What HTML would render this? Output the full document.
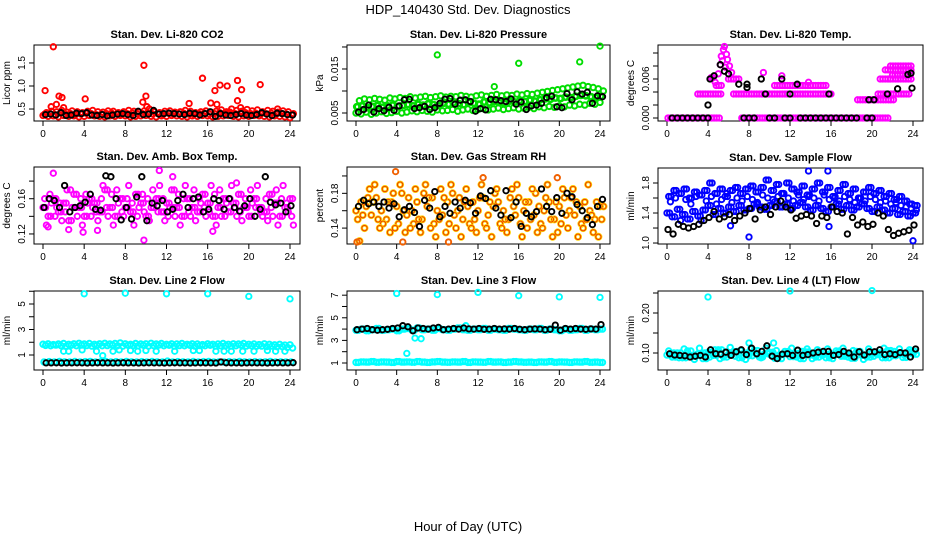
<!DOCTYPE html>
<html><head><meta charset="utf-8"><title>HDP_140430 Std. Dev. Diagnostics</title>
<style>
html,body{margin:0;padding:0;background:#fff;}
svg{display:block;font-family:"Liberation Sans",sans-serif;}
</style></head>
<body>
<svg id="chart" width="936" height="540" viewBox="0 0 936 540" xmlns="http://www.w3.org/2000/svg">
<text x="468" y="14" text-anchor="middle" font-size="13">HDP_140430  Std. Dev. Diagnostics</text>
<text x="468" y="531" text-anchor="middle" font-size="13">Hour of Day (UTC)</text>
</svg>
<script>
// ---------- data (hour = index * 0.5) ----------
const hourTicks = [0,4,8,12,16,20,24];
const co2Lo=[0.36,0.34,0.35,0.33,0.36,0.34,0.35,0.33,0.34,0.36,0.35,0.34,0.33,0.35,0.34,0.36,0.35,0.33,0.34,0.35,0.36,0.34,0.33,0.35,0.34,0.36,0.35,0.34,0.33,0.35,0.34,0.36,0.35,0.33,0.34,0.35,0.36,0.34,0.33,0.35,0.34,0.36,0.35,0.34,0.33,0.35,0.34,0.33,0.31];
const co2Mid=[0.39,0.40,0.38,0.41,0.39,0.40,0.38,0.39,0.41,0.40,0.38,0.39,0.40,0.41,0.39,0.38,0.40,0.41,0.39,0.40,0.42,0.39,0.40,0.38,0.41,0.39,0.40,0.41,0.39,0.38,0.40,0.41,0.39,0.40,0.42,0.41,0.43,0.40,0.41,0.42,0.40,0.41,0.39,0.40,0.41,0.39,0.40,0.39,0.37];
const co2Hi=[0.42,0.45,0.44,0.47,0.43,0.46,0.44,0.42,0.45,0.47,0.44,0.43,0.46,0.45,0.42,0.44,0.47,0.45,0.43,0.46,0.50,0.44,0.42,0.45,0.46,0.43,0.44,0.47,0.45,0.42,0.44,0.46,0.43,0.45,0.48,0.44,0.50,0.47,0.45,0.49,0.46,0.48,0.44,0.47,0.45,0.43,0.46,0.44,0.40];
const co2OutH=[0.2,1.0,0.8,1.3,1.55,1.85,2.0,4.1,9.7,9.8,10.0,10.1,14.2,15.5,16.3,16.7,16.9,17.2,17.9,18.9,18.9,19.3,19.2,21.1,22.8];
const co2OutV=[0.90,1.85,0.55,0.60,0.78,0.75,0.53,0.72,0.65,1.45,0.78,0.55,0.62,1.17,0.63,0.90,0.60,1.02,1.00,1.12,0.68,0.92,0.53,1.03,0.50];
const co2Blk=[0.38,0.39,0.37,0.42,0.36,0.37,0.41,0.40,0.42,0.37,0.36,0.38,0.35,0.37,0.39,0.40,0.38,0.36,0.45,0.38,0.39,0.47,0.39,0.40,0.41,0.40,0.39,0.38,0.41,0.40,0.37,0.40,0.44,0.34,0.40,0.37,0.36,0.38,0.40,0.37,0.36,0.38,0.42,0.39,0.36,0.41,0.40,0.38,0.37];

const prLo=[0.0050,0.0048,0.0052,0.0047,0.0050,0.0053,0.0049,0.0051,0.0054,0.0050,0.0052,0.0055,0.0053,0.0056,0.0054,0.0052,0.0057,0.0055,0.0056,0.0058,0.0054,0.0057,0.0059,0.0056,0.0058,0.0060,0.0057,0.0059,0.0061,0.0058,0.0060,0.0062,0.0059,0.0061,0.0063,0.0060,0.0064,0.0062,0.0065,0.0063,0.0066,0.0064,0.0068,0.0066,0.0070,0.0068,0.0072,0.0070,0.0074];
const prMid=[0.0064,0.0066,0.0062,0.0065,0.0067,0.0063,0.0066,0.0068,0.0065,0.0067,0.0069,0.0066,0.0070,0.0068,0.0071,0.0069,0.0067,0.0072,0.0070,0.0073,0.0071,0.0069,0.0074,0.0072,0.0070,0.0075,0.0073,0.0076,0.0074,0.0072,0.0077,0.0075,0.0078,0.0076,0.0079,0.0077,0.0080,0.0082,0.0081,0.0084,0.0083,0.0086,0.0085,0.0088,0.0090,0.0089,0.0087,0.0085,0.0088];
const prHi=[0.0078,0.0082,0.0080,0.0083,0.0081,0.0079,0.0084,0.0082,0.0085,0.0083,0.0087,0.0084,0.0086,0.0088,0.0085,0.0087,0.0089,0.0086,0.0088,0.0087,0.0090,0.0088,0.0086,0.0089,0.0091,0.0088,0.0090,0.0092,0.0089,0.0091,0.0090,0.0093,0.0091,0.0094,0.0092,0.0095,0.0097,0.0099,0.0101,0.0103,0.0105,0.0107,0.0109,0.0111,0.0113,0.0110,0.0108,0.0105,0.0100];
const prOutH=[8,16,22,24,13.6];
const prOutV=[0.0182,0.0163,0.0166,0.0202,0.0110];
const prBlk=[0.0052,0.0058,0.0068,0.0052,0.0060,0.0055,0.0063,0.0056,0.0066,0.0080,0.0081,0.0060,0.0062,0.0065,0.0058,0.0062,0.0072,0.0081,0.0083,0.0070,0.0079,0.0080,0.0076,0.0054,0.0060,0.0057,0.0081,0.0080,0.0078,0.0076,0.0082,0.0070,0.0075,0.0058,0.0066,0.0068,0.0072,0.0085,0.0088,0.0064,0.0062,0.0094,0.0080,0.0098,0.0093,0.0097,0.0072,0.0089,0.0087];

const tempLevel=[0,0,0.0037,0.0037,0.0037,0.005,0.005,0.0028,0.006,0.006,0.0074,0.008,0.0066];
const tempStart=[0.1,7.3,3.0,6.5,20.6,10.5,4.8,18.6,6.0,20.8,21.3,21.8,22.0];
const tempEnd=[5.2,21.6,5.3,16.1,23.6,15.7,5.3,22.3,7.2,23.8,23.8,23.9,23.9];
const tempPeakH=[4.7,5.0,5.2,5.3,5.5,5.6,5.8,5.9,6.1,6.3,5.4,5.7,4.5,4.3,11.2,13.8,9.4];
const tempPeakV=[0.0055,0.0068,0.0082,0.0095,0.0105,0.011,0.0098,0.009,0.008,0.007,0.0088,0.0078,0.0062,0.0062,0.0065,0.0055,0.007];
const tempBlkH=[0.5,1,1.5,2,2.5,3,3.5,4,7.5,8,8.5,10,10.5,11.5,12,13,13.5,14,14.5,15,15.5,16,16.5,17,17.5,18,18.5,19.5,20,4.0,4.2,4.6,5.2,5.6,6.0,7.0,7.8,7.8,9.2,11.2,12.7,9.6,12,15.8,20.2,19.7,21.5,22.5,23.5,23.8,23.9];
const tempBlkV=[0,0,0,0,0,0,0,0,0,0,0,0,0,0,0,0,0,0,0,0,0,0,0,0,0,0,0,0,0,0.002,0.006,0.0065,0.0082,0.0072,0.0068,0.0052,0.0047,0.0052,0.006,0.006,0.0052,0.0037,0.0037,0.0037,0.0028,0.0028,0.0037,0.0045,0.0067,0.0069,0.0046];

const ambA=[0.15,0.14,0.16,0.145,0.155,0.135,0.165,0.15,0.14,0.16,0.155,0.145,0.17,0.15,0.14,0.16,0.15,0.145,0.165,0.155,0.14,0.15,0.16,0.145,0.155,0.17,0.15,0.14,0.16,0.15,0.145,0.165,0.155,0.14,0.15,0.16,0.145,0.155,0.165,0.15,0.14,0.16,0.15,0.145,0.165,0.155,0.14,0.15,0.16];
const ambB=[0.16,0.165,0.14,0.155,0.145,0.17,0.15,0.16,0.165,0.14,0.145,0.16,0.15,0.165,0.17,0.145,0.16,0.155,0.14,0.165,0.16,0.17,0.145,0.16,0.14,0.15,0.165,0.16,0.145,0.17,0.16,0.15,0.145,0.165,0.17,0.14,0.16,0.15,0.145,0.16,0.17,0.15,0.145,0.16,0.15,0.17,0.16,0.155,0.14];
const ambC=[0.13,0.155,0.15,0.135,0.17,0.15,0.14,0.13,0.155,0.15,0.135,0.175,0.14,0.13,0.155,0.14,0.175,0.13,0.15,0.145,0.135,0.155,0.175,0.135,0.15,0.14,0.13,0.175,0.14,0.135,0.155,0.14,0.175,0.13,0.14,0.155,0.175,0.14,0.135,0.15,0.155,0.175,0.14,0.135,0.14,0.13,0.175,0.145,0.13];
const ambOutH=[1.0,11.3,12.6,3.9,5.3,9.8,16.5,0.5,2.5,18.8];
const ambOutV=[0.189,0.192,0.185,0.122,0.124,0.113,0.123,0.128,0.125,0.178];
const ambBlk=[0.150,0.160,0.158,0.150,0.175,0.145,0.150,0.152,0.156,0.165,0.148,0.147,0.186,0.185,0.160,0.136,0.150,0.137,0.162,0.185,0.135,0.155,0.152,0.158,0.145,0.148,0.158,0.165,0.150,0.160,0.162,0.145,0.148,0.160,0.158,0.148,0.160,0.150,0.146,0.152,0.160,0.140,0.148,0.185,0.156,0.153,0.155,0.145,0.152];

const rhA=[0.16,0.17,0.165,0.155,0.175,0.16,0.15,0.17,0.165,0.18,0.155,0.16,0.17,0.15,0.165,0.175,0.16,0.155,0.17,0.18,0.16,0.15,0.165,0.17,0.16,0.175,0.155,0.165,0.17,0.16,0.15,0.165,0.175,0.16,0.17,0.155,0.165,0.16,0.17,0.15,0.165,0.175,0.16,0.155,0.165,0.17,0.16,0.15,0.165];
const rhB=[0.15,0.155,0.175,0.17,0.15,0.145,0.17,0.18,0.145,0.16,0.175,0.145,0.15,0.18,0.175,0.145,0.15,0.175,0.145,0.155,0.175,0.17,0.145,0.15,0.175,0.145,0.17,0.18,0.145,0.15,0.175,0.155,0.145,0.17,0.15,0.18,0.145,0.175,0.15,0.17,0.145,0.155,0.175,0.17,0.145,0.15,0.155,0.17,0.15];
const rhC=[0.125,0.14,0.185,0.19,0.14,0.185,0.135,0.14,0.19,0.135,0.14,0.185,0.135,0.19,0.14,0.13,0.185,0.135,0.19,0.14,0.13,0.185,0.14,0.135,0.19,0.14,0.13,0.185,0.14,0.135,0.185,0.19,0.13,0.14,0.185,0.135,0.14,0.19,0.13,0.135,0.185,0.14,0.185,0.13,0.14,0.19,0.135,0.13,0.165];
const rhBlk=[0.165,0.172,0.168,0.170,0.165,0.170,0.163,0.168,0.153,0.161,0.165,0.158,0.142,0.172,0.163,0.182,0.153,0.165,0.157,0.170,0.163,0.172,0.169,0.157,0.177,0.174,0.183,0.163,0.155,0.183,0.152,0.170,0.142,0.157,0.153,0.159,0.185,0.165,0.159,0.175,0.157,0.180,0.176,0.167,0.160,0.152,0.144,0.165,0.173];
const rhOutH=[3.9,9.1,0.1,4.6,19.8,12.5];
const rhOutV=[0.205,0.124,0.124,0.124,0.198,0.198];

const sfA=[1.40,1.35,1.45,1.38,1.32,1.42,1.36,1.44,1.50,1.38,1.46,1.40,1.48,1.42,1.50,1.44,1.46,1.52,1.48,1.45,1.50,1.55,1.48,1.52,1.46,1.50,1.54,1.48,1.44,1.50,1.46,1.42,1.48,1.52,1.45,1.50,1.44,1.48,1.52,1.46,1.42,1.48,1.44,1.40,1.46,1.38,1.42,1.36,1.40];
const sfB=[1.62,1.70,1.66,1.72,1.60,1.68,1.64,1.70,1.80,1.66,1.72,1.62,1.70,1.74,1.66,1.72,1.76,1.68,1.74,1.84,1.70,1.78,1.66,1.80,1.72,1.68,1.76,1.64,1.72,1.80,1.68,1.74,1.62,1.70,1.78,1.66,1.72,1.60,1.68,1.74,1.66,1.70,1.62,1.66,1.58,1.62,1.56,1.52,1.50];
const sfC=[1.55,1.60,1.30,1.58,1.52,1.62,1.30,1.56,1.62,1.52,1.58,1.66,1.54,1.60,1.56,1.62,1.58,1.54,1.64,1.60,1.58,1.62,1.66,1.60,1.56,1.64,1.58,1.62,1.60,1.56,1.64,1.58,1.60,1.56,1.62,1.58,1.54,1.60,1.56,1.62,1.58,1.54,1.56,1.52,1.54,1.50,1.48,1.46,1.44];
const sfBlk=[1.18,1.12,1.25,1.22,1.20,1.22,1.25,1.30,1.34,1.42,1.32,1.35,1.38,1.30,1.36,1.40,1.46,1.32,1.44,1.48,1.38,1.48,1.56,1.48,1.44,1.33,1.36,1.38,1.36,1.26,1.36,1.34,1.48,1.42,1.40,1.12,1.34,1.24,1.28,1.22,1.25,1.40,1.36,1.18,1.10,1.13,1.15,1.17,1.24];
const sfOutH=[8.0,13.8,15.7,24.0,6.2,15.8];
const sfOutV=[1.08,1.96,1.96,1.03,1.23,1.22];

const l2A=[1.85,1.88,1.82,1.86,1.90,1.84,1.88,1.92,1.86,1.90,1.84,1.88,1.92,1.86,1.90,1.95,1.88,1.84,1.90,1.86,1.88,1.92,1.86,1.90,1.84,1.88,1.86,1.90,1.84,1.88,1.86,1.82,1.88,1.84,1.86,1.90,1.84,1.88,1.86,1.90,1.84,1.86,1.82,1.88,1.84,1.80,1.84,1.78,1.80];
const l2B=[1.75,1.72,1.78,1.74,1.70,1.76,1.72,1.78,1.74,1.70,1.76,1.72,1.74,1.78,1.72,1.70,1.76,1.74,1.72,1.76,1.70,1.74,1.78,1.72,1.76,1.70,1.74,1.72,1.76,1.70,1.74,1.72,1.76,1.70,1.72,1.74,1.70,1.72,1.76,1.70,1.72,1.68,1.70,1.66,1.70,1.64,1.66,1.60,1.55];
const l2Low=[0.45,0.48,0.46,0.50,0.47,0.45,0.49,0.46,0.48,0.50,0.46,0.47,0.49,0.45,0.48,0.46,0.50,0.47,0.45,0.48,0.46,0.49,0.47,0.45,0.52,0.46,0.48,0.47,0.45,0.49,0.46,0.48,0.50,0.46,0.47,0.45,0.48,0.46,0.49,0.47,0.45,0.48,0.46,0.47,0.49,0.45,0.47,0.46,0.45];
const l2Blk=[0.38,0.38,0.39,0.37,0.38,0.38,0.39,0.38,0.37,0.38,0.39,0.38,0.38,0.37,0.38,0.39,0.38,0.38,0.37,0.38,0.39,0.38,0.38,0.37,0.38,0.39,0.38,0.38,0.37,0.38,0.39,0.38,0.38,0.37,0.45,0.39,0.38,0.38,0.37,0.38,0.39,0.38,0.38,0.37,0.38,0.39,0.38,0.38,0.40];
const l2OutH=[4,8,12,16,20,24,2.0,2.5,3.8,5.2,6.8,7.4,8.5,9.2,10.0,11.0,12.8,14.6,15.2,16.8,17.6,18.3,19.4,20.5,21.8,22.6,23.5,5.8];
const l2OutV=[5.8,5.85,5.8,5.8,5.6,5.4,1.3,1.3,1.4,1.3,1.3,1.4,1.35,1.3,1.35,1.3,1.3,1.35,1.35,1.3,1.3,1.3,1.3,1.3,1.35,1.3,1.3,0.95];

const l3Hi=[3.90,4.00,3.85,3.95,4.05,3.90,3.95,4.00,3.85,4.00,4.05,3.90,4.10,3.95,4.00,3.90,4.05,3.95,3.90,4.00,4.10,3.95,3.90,4.00,3.95,4.05,3.90,4.00,3.95,3.90,4.05,4.00,3.95,3.90,4.00,3.95,4.05,3.90,4.00,3.95,3.85,4.00,3.90,3.95,4.05,3.90,4.00,3.95,4.00];
const l3Low=[1.05,1.10,1.08,1.12,1.06,1.10,1.08,1.05,1.12,1.08,1.10,1.06,1.12,1.08,1.05,1.10,1.12,1.08,1.06,1.10,1.08,1.12,1.05,1.10,1.08,1.06,1.12,1.08,1.10,1.05,1.08,1.12,1.10,1.06,1.08,1.05,1.10,1.08,1.12,1.06,1.10,1.08,1.05,1.10,1.08,1.12,1.06,1.08,1.05];
const l3Blk=[3.95,4.00,4.05,3.95,3.90,3.95,3.98,4.05,4.10,4.30,4.20,3.85,4.10,4.05,4.00,4.10,4.15,3.95,4.00,4.05,4.00,4.10,4.02,4.00,4.05,3.98,4.00,4.05,4.00,4.02,4.00,4.05,3.98,3.95,4.00,4.02,4.00,3.95,3.98,4.35,3.90,4.05,4.00,4.05,4.00,3.98,4.02,4.00,4.40];
const l3OutH=[4,8,12,16,20,24,5.0,5.8,6.4,10.8];
const l3OutV=[7.15,7.05,7.25,6.95,6.85,6.8,1.85,3.2,3.15,4.3];

const l4A=[0.095,0.090,0.100,0.088,0.105,0.092,0.098,0.086,0.102,0.094,0.108,0.090,0.097,0.104,0.088,0.100,0.093,0.106,0.090,0.098,0.102,0.087,0.096,0.104,0.091,0.099,0.086,0.103,0.095,0.090,0.101,0.088,0.097,0.105,0.092,0.099,0.087,0.104,0.094,0.090,0.102,0.096,0.088,0.106,0.093,0.100,0.089,0.103,0.097];
const l4B=[0.105,0.100,0.088,0.110,0.096,0.084,0.112,0.100,0.090,0.108,0.086,0.102,0.114,0.092,0.106,0.084,0.110,0.098,0.088,0.112,0.094,0.106,0.086,0.100,0.112,0.090,0.104,0.110,0.086,0.108,0.094,0.110,0.086,0.102,0.112,0.090,0.106,0.096,0.084,0.110,0.092,0.100,0.112,0.088,0.104,0.110,0.094,0.108,0.104];
const l4Blk=[0.098,0.095,0.094,0.093,0.090,0.092,0.094,0.090,0.108,0.098,0.097,0.102,0.094,0.103,0.108,0.096,0.112,0.098,0.104,0.118,0.092,0.086,0.097,0.098,0.094,0.107,0.094,0.096,0.100,0.102,0.104,0.104,0.094,0.096,0.104,0.100,0.090,0.103,0.095,0.103,0.103,0.108,0.096,0.098,0.096,0.101,0.100,0.090,0.110];
const l4OutH=[4,12,20,8,10.4];
const l4OutV=[0.24,0.255,0.256,0.125,0.125];

// ---------- drawing ----------
const NS='http://www.w3.org/2000/svg';
const svg=document.getElementById('chart');
function mk(tag,attrs,parent){const e=document.createElementNS(NS,tag);for(const k in attrs)e.setAttribute(k,attrs[k]);(parent||svg).appendChild(e);return e;}

function panel(cfg){
  const g=mk('g',{});
  
  
  const xs=h=>cfg.x0+h*(cfg.x24-cfg.x0)/24;
  const ys=v=>cfg.bottom-(v-cfg.ymin)/(cfg.ymax-cfg.ymin)*(cfg.bottom-cfg.top);
  const bl=cfg.x0-9, br=cfg.x24+10;
  const box=mk('rect',{x:bl,y:cfg.top,width:br-bl,height:cfg.bottom-cfg.top,fill:'none',stroke:'#000','stroke-width':1},g);
  
  
  const t=mk('text',{x:(bl+br)/2,y:cfg.top-7,'text-anchor':'middle','font-size':11,'font-weight':'bold'},g);
  t.textContent=cfg.title;
  
  
  hourTicks.forEach(h=>{
    mk('line',{x1:xs(h),x2:xs(h),y1:cfg.bottom,y2:cfg.bottom+5,stroke:'#000'},g);
    const l=mk('text',{x:xs(h),y:cfg.bottom+16,'text-anchor':'middle','font-size':10},g);
    l.textContent=String(h);
    
    
  });
  cfg.yTicks.forEach((v,i)=>{
    const y=ys(v);
    mk('line',{x1:bl,x2:bl-5,y1:y,y2:y,stroke:'#000'},g);
    if(cfg.yLabels[i]!==''){
      const l=mk('text',{x:bl-9,y:y,'text-anchor':'middle','font-size':10,transform:`rotate(-90 ${bl-9} ${y})`},g);
      l.textContent=cfg.yLabels[i];
      
      
    }
  });
  const yl=(cfg.top+cfg.bottom)/2;
  const yt=mk('text',{x:bl-24,y:yl,'text-anchor':'middle','font-size':10,transform:`rotate(-90 ${bl-24} ${yl})`},g);
  yt.textContent=cfg.ylab;
  
  
  const clip=mk('g',{},g);
  // hours: explicit array, or null -> i*0.5 + off
  function pts(hours,vals,color,name,sw,off){
    const sg=mk('g',{fill:'none',stroke:color,'stroke-width':sw||1.9},clip);
    
    
    vals.forEach((v,i)=>{
      const h=hours?hours[i]:i*0.5+(off||0);
      const c=mk('circle',{cx:xs(h).toFixed(1),cy:ys(v).toFixed(1),r:2.7},sg);
      
      
    });
  }
  cfg.draw(pts);
}

panel({name:'panel-co2',title:'Stan. Dev. Li-820 CO2',ylab:'Licor ppm',x0:43,x24:290,top:45,bottom:121,ymin:0.24,ymax:1.89,
  yTicks:[0.5,1.0,1.5],yLabels:['0.5','1.0','1.5'],
  draw:p=>{p(null,co2Lo,'#f00','co2-points',1.9,0);p(null,co2Mid,'#f00','co2-points',1.9,0.17);p(null,co2Hi,'#f00','co2-points',1.9,0.33);p(co2OutH,co2OutV,'#f00','co2-outliers');p(null,co2Blk,'#000','co2-black-points',1.9,0.25);}});
panel({name:'panel-pressure',title:'Stan. Dev. Li-820 Pressure',ylab:'kPa',x0:356,x24:600,top:45,bottom:121,ymin:0.00318,ymax:0.02045,
  yTicks:[0.005,0.010,0.015,0.020],yLabels:['0.005','','0.015',''],
  draw:p=>{p(null,prLo,'#0d0','pressure-points',2,0);p(null,prMid,'#0d0','pressure-points',2,0.17);p(null,prHi,'#0d0','pressure-points',2,0.33);p(null,prMid,'#0d0','pressure-points',2.4,0.08);p(prOutH,prOutV,'#0d0','pressure-outliers');p(null,prBlk,'#000','pressure-black-points',1.9,0.25);}});
panel({name:'panel-temp',title:'Stan. Dev. Li-820 Temp.',ylab:'degrees C',x0:667,x24:913,top:45,bottom:121,ymin:-0.00046,ymax:0.01123,
  yTicks:[0,0.002,0.004,0.006,0.008,0.010],yLabels:['0.000','','','0.006','',''],
  draw:p=>{
    tempLevel.forEach((lv,i)=>{const hs=[],vs=[];for(let h=tempStart[i];h<=tempEnd[i]+1e-9;h+=0.25){hs.push(h);vs.push(lv);}p(hs,vs,'#f0f','temp-points');});
    p(tempPeakH,tempPeakV,'#f0f','temp-peak-points');p(tempBlkH,tempBlkV,'#000','temp-black-points');}});
panel({name:'panel-amb-temp',title:'Stan. Dev. Amb. Box Temp.',ylab:'degrees C',x0:43,x24:290,top:167,bottom:244,ymin:0.1086,ymax:0.196,
  yTicks:[0.12,0.14,0.16,0.18],yLabels:['0.12','','0.16',''],
  draw:p=>{p(null,ambA,'#f0f','amb-points',1.9,0);p(null,ambB,'#f0f','amb-points',1.9,0.17);p(null,ambC,'#f0f','amb-points',1.9,0.33);p(null,ambA,'#f0f','amb-points',1.9,0.25);p(ambOutH,ambOutV,'#f0f','amb-outliers');p(null,ambBlk,'#000','amb-black-points',1.9,0.1);}});
panel({name:'panel-rh',title:'Stan. Dev. Gas Stream RH',ylab:'percent',x0:356,x24:600,top:167,bottom:244,ymin:0.1217,ymax:0.2103,
  yTicks:[0.14,0.16,0.18,0.20],yLabels:['0.14','','0.18',''],
  draw:p=>{[rhA,rhB,rhC].forEach((a,k)=>{p(null,a,'#ffd000','rh-points',2.6,k*0.17);p(null,a,'#e83000','rh-points',0.9,k*0.17);});p(rhOutH,rhOutV,'#f06000','rh-outliers');p(null,rhBlk,'#000','rh-black-points',1.9,0.25);}});
panel({name:'panel-sample-flow',title:'Stan. Dev. Sample Flow',ylab:'ml/min',x0:667,x24:913,top:168,bottom:244,ymin:0.987,ymax:2.0,
  yTicks:[1.0,1.2,1.4,1.6,1.8],yLabels:['1.0','','1.4','','1.8'],
  draw:p=>{p(null,sfA,'#00f','flow-points',1.9,0);p(null,sfB,'#00f','flow-points',1.9,0.17);p(null,sfC,'#00f','flow-points',1.9,0.33);p(null,sfB,'#00f','flow-points',1.9,0.4);p(null,sfA,'#00f','flow-points',1.9,0.25);p(sfOutH,sfOutV,'#00f','flow-outliers');p(null,sfBlk,'#000','flow-black-points',1.9,0.1);}});
panel({name:'panel-line2',title:'Stan. Dev. Line 2 Flow',ylab:'ml/min',x0:43,x24:290,top:291,bottom:370,ymin:-0.176,ymax:6.02,
  yTicks:[1,2,3,4,5,6],yLabels:['1','','3','','5',''],
  draw:p=>{p(null,l2A,'#0ff','line2-points',2,0);p(null,l2B,'#0ff','line2-points',2,0.25);p(null,l2Low,'#0ff','line2-low-points',2,0.1);p(l2OutH,l2OutV,'#0ff','line2-outliers');p(null,l2Blk,'#000','line2-black-points',1.9,0.3);}});
panel({name:'panel-line3',title:'Stan. Dev. Line 3 Flow',ylab:'ml/min',x0:356,x24:600,top:291,bottom:370,ymin:0.38,ymax:7.37,
  yTicks:[1,2,3,4,5,6,7],yLabels:['1','','3','','5','','7'],
  draw:p=>{p(null,l3Hi,'#0ff','line3-points',2,0);p(null,l3Hi,'#0ff','line3-points',2,0.25);p(null,l3Low,'#0ff','line3-low-points',2,0);p(null,l3Low,'#0ff','line3-low-points',2,0.25);p(l3OutH,l3OutV,'#0ff','line3-outliers');p(null,l3Blk,'#000','line3-black-points',1.9,0.1);}});
panel({name:'panel-line4',title:'Stan. Dev. Line 4 (LT) Flow',ylab:'ml/min',x0:667,x24:913,top:291,bottom:370,ymin:0.0575,ymax:0.255,
  yTicks:[0.10,0.15,0.20,0.25],yLabels:['0.10','','0.20',''],
  draw:p=>{p(null,l4A,'#0ff','line4-points',2,0);p(null,l4B,'#0ff','line4-points',2,0.17);p(null,l4A,'#0ff','line4-points',2,0.33);p(l4OutH,l4OutV,'#0ff','line4-outliers');p(null,l4Blk,'#000','line4-black-points',1.9,0.25);}});
</script>
</body></html>
